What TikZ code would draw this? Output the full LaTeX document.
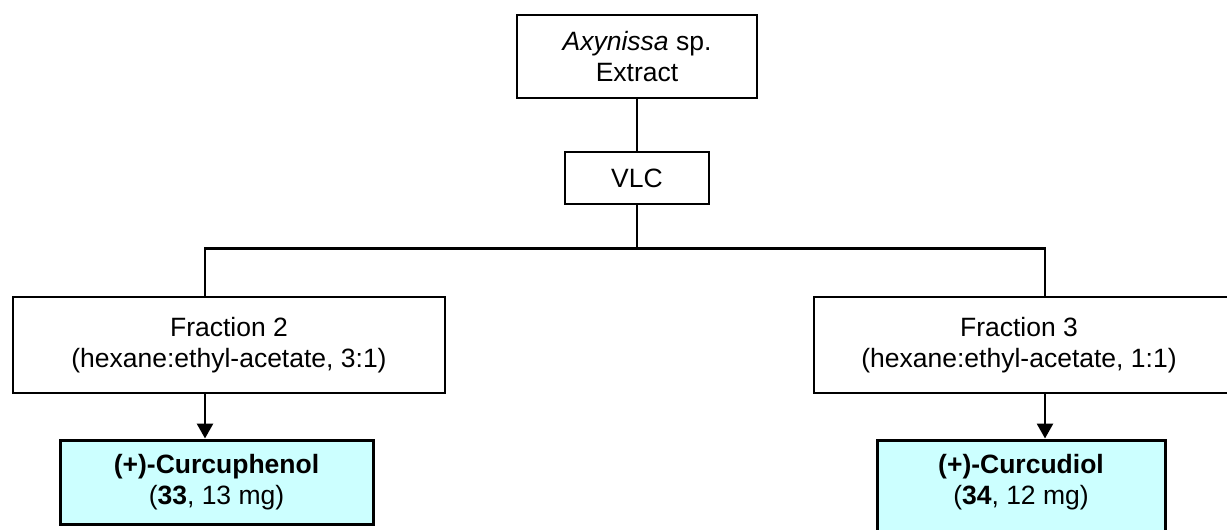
\documentclass[tikz,border=0pt]{standalone}
\usepackage{fontspec}
\setmainfont{Liberation Sans}
\usetikzlibrary{arrows.meta}
\definecolor{paleblue}{HTML}{CCFFFF}
\begin{document}
\begin{tikzpicture}[x=1pt,y=-1pt,
  every node/.style={font=\fontsize{26.5}{31}\selectfont, align=center, inner sep=0pt},
  stagebox/.style={draw=black, line width=2pt, fill=white, rectangle},
  productbox/.style={draw=black, line width=3pt, fill=paleblue, rectangle},
  link/.style={line width=2.8pt},
  arrowlink/.style={link, -{Triangle[width=16pt,length=15pt]}},
]
\useasboundingbox (0,0) rectangle (1227,530);
\clip (0,0) rectangle (1227,530);

% extraction and chromatography
\node[stagebox, minimum width=240pt, minimum height=82.7pt] (ax) at (637,56.3)
  {\textit{Axynissa} sp.\\Extract};
\node[stagebox, minimum width=144pt, minimum height=52pt] (vlc) at (637,178) {VLC};

% fractions
\node[stagebox, minimum width=432pt, minimum height=96pt] (f2) at (229,344.7)
  {Fraction 2\\(hexane:ethyl-acetate, 3:1)};
\node[stagebox, minimum width=431pt, minimum height=96pt] (f3) at (1029.5,344.7) {};
\node (f3t) at (1019,344.7) {Fraction 3\\(hexane:ethyl-acetate, 1:1)};

% isolated compounds
\node[productbox, minimum width=313pt, minimum height=84pt] (c1) at (216.5,482)
  {\textbf{(+)-Curcuphenol}\\(\textbf{33}, 13 mg)};
\node[productbox, minimum width=288pt, minimum height=100pt] (c2) at (1021,490) {};
\node (c2t) at (1021,482) {\textbf{(+)-Curcudiol}\\(\textbf{34}, 12 mg)};

% connectors
\coordinate (b2) at (205,248.5);
\coordinate (b3) at (1045,248.5);
\draw[link] (ax.south) -- (vlc.north);
\draw[link] (vlc.south) -- (vlc.south |- b2);
\draw[link, line cap=rect] (b2) -- (b3);
\draw[link] (b2) -- (b2 |- f2.north);
\draw[link] (b3) -- (b3 |- f3.north);
\draw[arrowlink] (b2 |- f2.south) -- (b2 |- c1.north);
\draw[arrowlink] (b3 |- f3.south) -- (b3 |- c2.north);
\end{tikzpicture}
\end{document}
